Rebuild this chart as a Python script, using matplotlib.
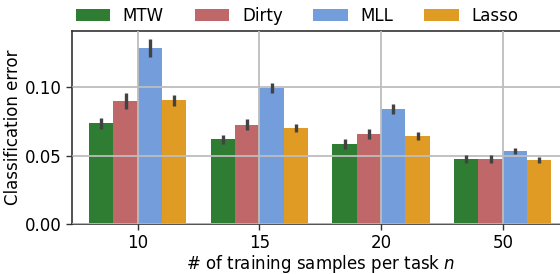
import numpy as np
import matplotlib
matplotlib.use("Agg")
import matplotlib.pyplot as plt

# data
n_samples = ["10", "15", "20", "50"]
methods = ["MTW", "Dirty", "MLL", "Lasso"]
colors = ["#2e7d32", "#c0676a", "#749ddc", "#e09b24"]

mtw = [0.0735, 0.0620, 0.0584, 0.0474]
dirty = [0.0898, 0.0723, 0.0657, 0.0474]
mll = [0.1285, 0.0995, 0.0839, 0.0533]
lasso = [0.0905, 0.0698, 0.0642, 0.0467]

mtw_err = [0.0040, 0.0033, 0.0033, 0.0028]
dirty_err = [0.0055, 0.0040, 0.0040, 0.0027]
mll_err = [0.0063, 0.0036, 0.0036, 0.0024]
lasso_err = [0.0040, 0.0030, 0.0028, 0.0020]

values = [mtw, dirty, mll, lasso]
errors = [mtw_err, dirty_err, mll_err, lasso_err]

plt.rcParams["font.family"] = "DejaVu Sans"
plt.rcParams["font.size"] = 12

fig = plt.figure(figsize=(5.6, 2.74), dpi=100)
ax = fig.add_axes([0.1286, 0.1825, 0.8866, 0.7044])

x = np.arange(len(n_samples))
width = 0.2
for i, (m, v, e, c) in enumerate(zip(methods, values, errors, colors)):
    pos = x + (i - 1.5) * width
    ax.bar(pos, v, width, color=c, label=m, zorder=1)
    ax.errorbar(pos, v, yerr=e, fmt="none", ecolor="#424242",
                elinewidth=2.4, capsize=0, zorder=3)

ax.set_xticks(x)
ax.set_xticklabels(n_samples)
ax.set_yticks([0.0, 0.05, 0.10])
ax.set_yticklabels(["0.00", "0.05", "0.10"])
ax.set_xlim(-0.54, 3.54)
ax.set_ylim(0, 0.1409)
ax.grid(True, color="#bdbdbd", lw=1.3, zorder=2)
ax.set_axisbelow(False)
for s in ax.spines.values():
    s.set_color("#333333")
    s.set_linewidth(1.2)
ax.tick_params(length=4, width=1.0, color="#333333")

ax.set_xlabel("# of training samples per task $n$", fontsize=12, labelpad=0.5)
ax.set_ylabel("Classification error", fontsize=12, labelpad=2)

fig.legend(loc="center left", bbox_to_anchor=(0.135, 0.942), ncol=4,
           frameon=False, handlelength=2.05, handleheight=0.8, handletextpad=0.78,
           columnspacing=1.85, borderpad=0, borderaxespad=0, fontsize=12)

fig.savefig("out.png", dpi=100)
